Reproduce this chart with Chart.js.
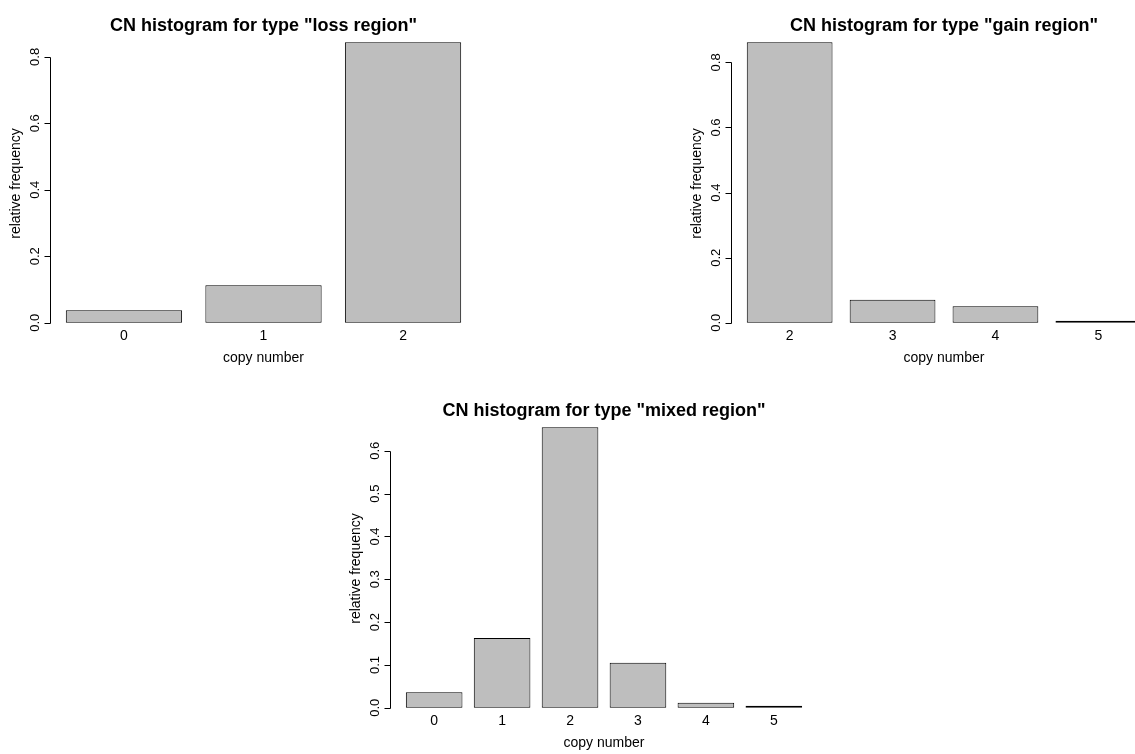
<!DOCTYPE html>
<html>
<head>
<meta charset="utf-8">
<title>CN histograms</title>
<script src="https://cdn.jsdelivr.net/npm/chart.js@4.4.1/dist/chart.umd.min.js"></script>
<style>
  body { margin: 0; background: #fff; overflow: hidden; }
  #page { position: relative; width: 1135px; height: 754px; overflow: hidden; background: #fff; }
  #page canvas { position: absolute; }
</style>
</head>
<body>
<div id="page">
  <canvas id="lossChart" width="680" height="377" style="left:0px;top:0px"></canvas>
  <canvas id="gainChart" width="680" height="377" style="left:681px;top:0px"></canvas>
  <canvas id="mixedChart" width="680" height="377" style="left:340px;top:385px"></canvas>
</div>
<script>
// copy number categories and relative frequencies
const lossCopyNumbers = ["0", "1", "2"];
const lossFreq = [0.038, 0.113, 0.844];

const gainCopyNumbers = ["2", "3", "4", "5"];
const gainFreq = [0.862, 0.071, 0.051, 0.002];

const mixedCopyNumbers = ["0", "1", "2", "3", "4", "5"];
const mixedFreq = [0.036, 0.163, 0.655, 0.105, 0.012, 0.001];

// y tick values
const ticksTo08 = [0, 0.2, 0.4, 0.6, 0.8];
const ticksTo06 = [0, 0.1, 0.2, 0.3, 0.4, 0.5, 0.6];

const FONT = '"Liberation Sans", Arial, Helvetica, sans-serif';

// bar centres like R's barplot (width 1, space 0.2)
const barCentre = i => 0.7 + 1.2 * i;

// draws the R style axes, axis labels and title
function rAxes(title, labels, yTicks) {
    return {
        id: "rAxes",
        afterDraw(chart) {
            const ctx = chart.ctx;
            const area = chart.chartArea;
            const xScale = chart.scales.x;
            const yScale = chart.scales.y;
            const ax = area.left + 0.5;

            ctx.save();
            ctx.strokeStyle = "#000";
            ctx.fillStyle = "#000";
            ctx.lineWidth = 1;

            const yFirst = Math.round(yScale.getPixelForValue(yTicks[0])) + 0.5;
            const yLast = Math.round(yScale.getPixelForValue(yTicks[yTicks.length - 1])) + 0.5;
            ctx.beginPath();
            ctx.moveTo(ax, yFirst);
            ctx.lineTo(ax, yLast);
            yTicks.forEach(v => {
                const py = Math.round(yScale.getPixelForValue(v)) + 0.5;
                ctx.moveTo(ax, py);
                ctx.lineTo(ax - 6, py);
            });
            ctx.stroke();

            ctx.textAlign = "center";
            ctx.textBaseline = "alphabetic";

            // y tick labels, vertical as in R
            ctx.font = "13px " + FONT;
            yTicks.forEach(v => {
                ctx.save();
                ctx.translate(area.left - 11, yScale.getPixelForValue(v));
                ctx.rotate(-Math.PI / 2);
                ctx.fillText(v.toFixed(1), 0, 0);
                ctx.restore();
            });

            // bar names under the bar centres
            ctx.font = "14px " + FONT;
            labels.forEach((l, i) => {
                ctx.fillText(l, xScale.getPixelForValue(barCentre(i)), area.bottom + 6);
            });

            ctx.save();
            ctx.translate(area.left - 30, (area.top + area.bottom) / 2 + 1);
            ctx.rotate(-Math.PI / 2);
            ctx.fillText("relative frequency", 0, 0);
            ctx.restore();

            ctx.fillText("copy number", (area.left + area.right) / 2, area.bottom + 28);

            ctx.font = "bold 18px " + FONT;
            ctx.fillText(title, (area.left + area.right) / 2, area.top);
            ctx.restore();
        }
    };
}

function cnHistogram(canvasId, title, labels, freq, yTicks, padRight) {
    const n = labels.length;
    const span = 1.2 * n - 0.2;
    const top = Math.max(...freq);

    return new Chart(document.getElementById(canvasId), {
        type: "bar",
        data: {
            datasets: [{
                data: freq.map((v, i) => ({ x: barCentre(i), y: v })),
                backgroundColor: "#bebebe",
                borderColor: "#000",
                borderWidth: 1,
                borderSkipped: false,
                minBarLength: 2,
                barPercentage: 1,
                categoryPercentage: 1 / 1.2,
            }],
        },
        options: {
            responsive: false,
            animation: false,
            layout: {
                padding: { left: 50, right: padRight, top: 31, bottom: 43 },
            },
            scales: {
                x: {
                    type: "linear",
                    display: false,
                    offset: false,
                    min: 0.2 - 0.04 * span,
                    max: 1.2 * n + 0.04 * span,
                    afterBuildTicks: scale => {
                        scale.ticks = labels.map((l, i) => ({ value: barCentre(i) }));
                    },
                },
                y: {
                    display: false,
                    min: -0.04 * top,
                    max: 1.04 * top,
                    afterBuildTicks: scale => {
                        scale.ticks = yTicks.map(v => ({ value: v }));
                    },
                },
            },
            plugins: {
                legend: { display: false },
                tooltip: { enabled: false },
            },
        },
        plugins: [rAxes(title, labels, yTicks)],
    });
}

cnHistogram("lossChart", 'CN histogram for type "loss region"', lossCopyNumbers, lossFreq, ticksTo08, 203);
cnHistogram("gainChart", 'CN histogram for type "gain region"', gainCopyNumbers, gainFreq, ticksTo08, 204);
cnHistogram("mixedChart", 'CN histogram for type "mixed region"', mixedCopyNumbers, mixedFreq, ticksTo06, 202);
</script>
</body>
</html>
